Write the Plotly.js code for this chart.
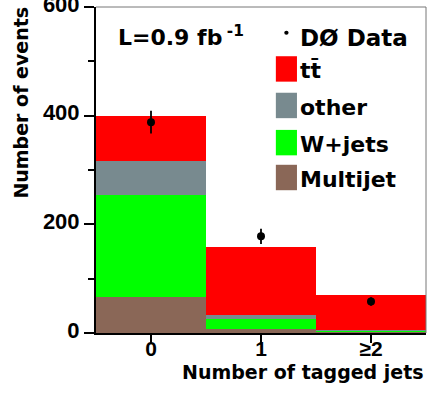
<!DOCTYPE html>
<html>
<head>
<meta charset="utf-8">
<script src="https://cdn.plot.ly/plotly-3.0.1.min.js"></script>
<style>html,body{margin:0;padding:0;background:#fff;}#chart{width:428px;height:400px;}</style>
</head>
<body>
<div id="chart"></div>
<script>
// Data
const binPositions = [0, 1, 2];
const binLabels = ["0", "1", "\u22652"];
const multijet = [67, 7, 1];
const wjets = [187, 18, 2];
const other = [63, 8, 2];
const ttbar = [83, 126, 65];
const dataValues = [388, 178, 58];
const dataErrors = [21, 14, 8];
const yTickValues = [0, 200, 400, 600];
const yMinorTickValues = [100, 300, 500];

const seriesNames = ["Multijet", "W+jets", "other", "tt\u0304"];
const seriesColors = ["#8a6757", "#00ff00", "#788a8f", "#ff0000"];
const seriesValues = [multijet, wjets, other, ttbar];

const wordFont = {family: "DejaVu Sans, sans-serif", color: "#000", weight: "bold"};
const numFont = {family: "Liberation Sans, Arial, sans-serif", color: "#000", weight: "bold"};

const traces = seriesValues.map((vals, i) => ({
  type: "bar",
  x: binPositions,
  y: vals,
  width: 1,
  name: seriesNames[i],
  marker: {color: seriesColors[i], line: {width: 0}},
  showlegend: false,
  hoverinfo: "skip"
}));
traces.push({
  type: "scatter",
  mode: "markers",
  x: binPositions,
  y: dataValues,
  error_y: {type: "data", array: dataErrors, visible: true, color: "#000", thickness: 1.8, width: 0},
  marker: {color: "#000", size: 8},
  name: "D\u00d8 Data",
  showlegend: false
});

// Legend layout (paper coordinates)
const legendRows = [0.810, 0.698, 0.584, 0.477];
const legendOrder = [3, 2, 1, 0];
const shapes = [];
const annotations = [];
legendOrder.forEach((si, r) => {
  const yc = legendRows[r];
  shapes.push({type: "rect", xref: "paper", yref: "paper", x0: 0.545, x1: 0.609, y0: yc - 0.039, y1: yc + 0.039,
    fillcolor: seriesColors[si], line: {width: 0}});
  annotations.push({xref: "paper", yref: "paper", x: 0.612, y: yc - 0.006, xanchor: "left", yanchor: "middle",
    text: seriesNames[si], showarrow: false, font: Object.assign({size: 22}, wordFont)});
});
shapes.push({type: "circle", xref: "paper", yref: "paper", x0: 0.5705, x1: 0.5835, y0: 0.9145, y1: 0.9275,
  fillcolor: "#000", line: {width: 0}});
annotations.push({xref: "paper", yref: "paper", x: 0.612, y: 0.906, xanchor: "left", yanchor: "middle",
  text: "D\u00d8 Data", showarrow: false, font: Object.assign({size: 23}, wordFont)});
annotations.push({xref: "paper", yref: "paper", x: 0.062, y: 0.910, xanchor: "left", yanchor: "middle",
  text: "L=0.9 fb\u2009<sup>-1</sup>", showarrow: false, font: Object.assign({size: 22}, wordFont)});
annotations.push({xref: "paper", yref: "paper", x: -0.230, y: 0.707, xanchor: "center", yanchor: "middle",
  textangle: -90, text: "Number of events", showarrow: false, font: Object.assign({size: 19}, wordFont)});
annotations.push({xref: "paper", yref: "paper", x: 1.0, y: -0.120, xanchor: "right", yanchor: "middle",
  text: "Number of tagged jets", showarrow: false, font: Object.assign({size: 19}, wordFont)});
// frame top/right
shapes.push({type: "line", xref: "paper", yref: "paper", x0: 0, x1: 1, y0: 1, y1: 1, line: {color: "#777", width: 1}});
shapes.push({type: "line", xref: "paper", yref: "paper", x0: 1, x1: 1, y0: 0, y1: 1, line: {color: "#777", width: 1}});

const layout = {
  width: 428, height: 400,
  margin: {l: 96, r: 2, t: 7, b: 67, pad: 0},
  paper_bgcolor: "#fff", plot_bgcolor: "#fff",
  barmode: "stack", bargap: 0,
  showlegend: false,
  font: numFont,
  xaxis: {
    range: [-0.5, 2.5], tickvals: binPositions, ticktext: binLabels,
    ticks: "outside", ticklen: 8, tickwidth: 2, tickcolor: "#000",
    ticklabelstandoff: -12,
    showline: true, linecolor: "#000", linewidth: 2, showgrid: false, zeroline: false,
    tickfont: Object.assign({size: 21}, numFont)
  },
  yaxis: {
    range: [0, 600], tickvals: yTickValues,
    ticks: "outside", ticklen: 10, tickwidth: 2, tickcolor: "#000",
    ticklabeloverflow: "allow", ticklabelshift: -3,
    minor: {tickvals: yMinorTickValues, ticks: "outside", ticklen: 6, tickwidth: 2, tickcolor: "#000", showgrid: false},
    showline: true, linecolor: "#000", linewidth: 2, showgrid: false, zeroline: false,
    tickfont: Object.assign({size: 22}, numFont)
  },
  shapes: shapes,
  annotations: annotations
};

Plotly.newPlot("chart", traces, layout, {displayModeBar: false, staticPlot: true});
</script>
</body>
</html>
